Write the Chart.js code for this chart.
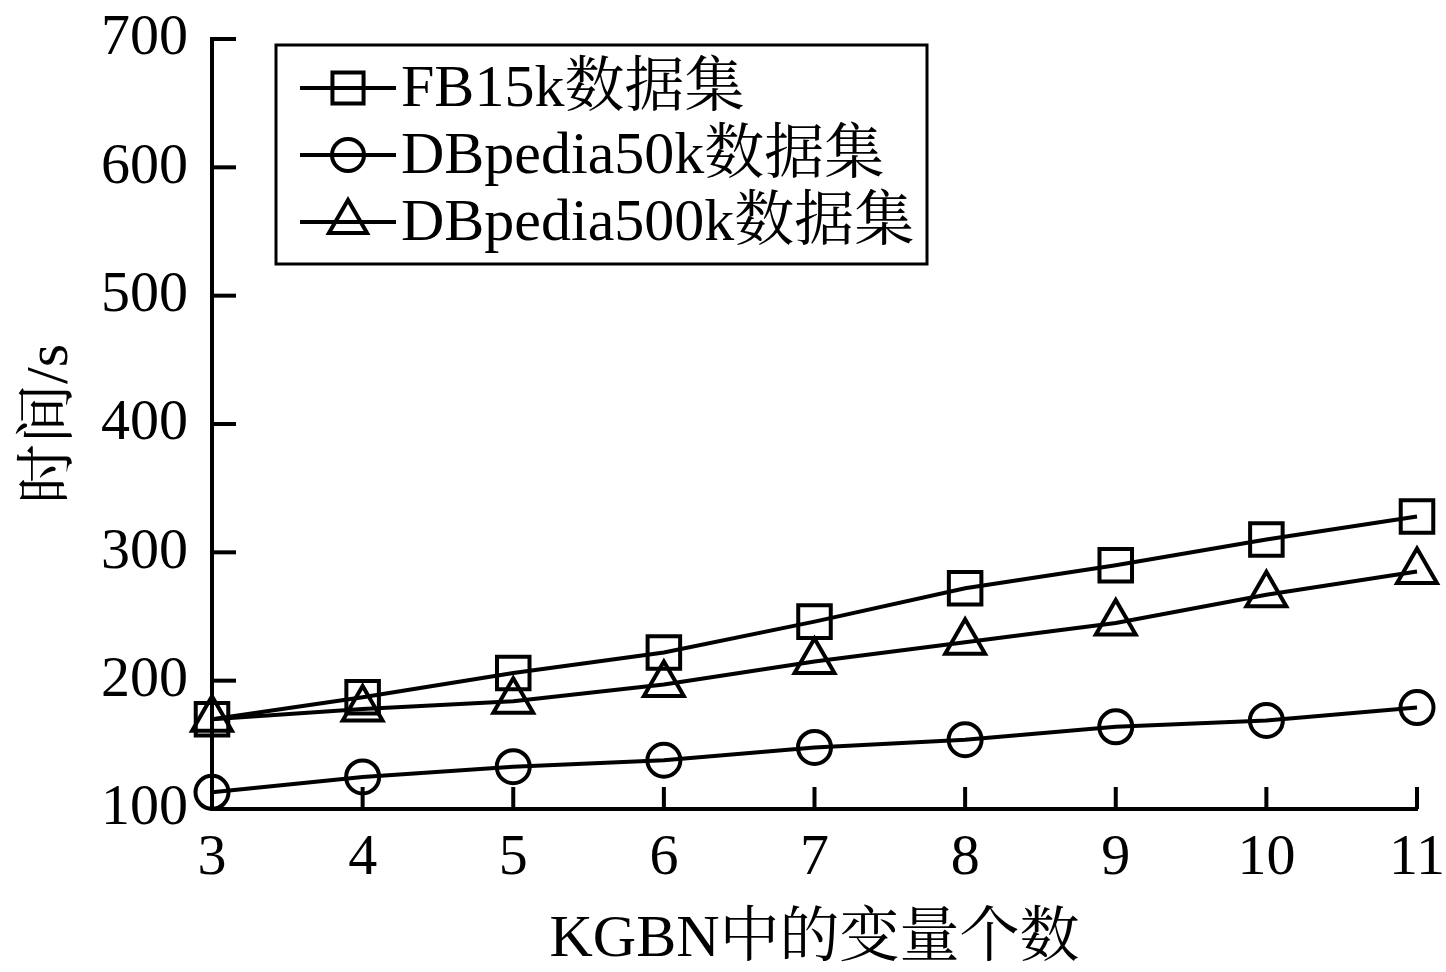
<!DOCTYPE html>
<html>
<head>
<meta charset="utf-8">
<script src="https://cdn.jsdelivr.net/npm/chart.js@4.4.1/dist/chart.umd.min.js"></script>
<style>
  html, body { margin: 0; padding: 0; background: #fff; }
  #wrap { width: 1446px; height: 972px; }
</style>
</head>
<body>
<div id="wrap"><canvas id="c" width="1446" height="972"></canvas></div>
<script>
const categories = [3, 4, 5, 6, 7, 8, 9, 10, 11];
const fb15k = [170, 187, 206, 222, 246, 272, 290, 310, 328];
const dbpedia50k = [113, 125, 133, 138, 148, 154, 164, 169, 179];
const dbpedia500k = [170, 178, 184, 197, 215, 230, 245, 267, 285];
const yTickValues = [100, 200, 300, 400, 500, 600, 700];
const seriesLabels = ['FB15k数据集', 'DBpedia50k数据集', 'DBpedia500k数据集'];
const xTitle = 'KGBN中的变量个数';
const yTitle = '时间/s';

const FONT = "'Liberation Serif', 'Times New Roman', 'Noto Serif CJK SC', 'Noto Sans CJK SC', serif";

function pts(arr) { return categories.map((x, i) => ({ x: x, y: arr[i] })); }

function makeDs(label, data, style, radius) {
  return {
    label: label,
    data: pts(data),
    borderColor: '#000',
    borderWidth: 4,
    pointStyle: style,
    pointRadius: radius,
    pointHoverRadius: radius,
    pointBorderWidth: 4,
    pointBorderColor: '#000',
    pointBackgroundColor: 'rgba(0,0,0,0)',
    fill: false,
    tension: 0,
    clip: false
  };
}

function drawMarker(ctx, style, x, y, r) {
  ctx.beginPath();
  if (style === 'rect') {
    const s = Math.SQRT1_2 * r;
    ctx.rect(x - s, y - s, 2 * s, 2 * s);
  } else if (style === 'circle') {
    ctx.arc(x, y, r, 0, Math.PI * 2);
  } else if (style === 'triangle') {
    let a = 0;
    ctx.moveTo(x + Math.sin(a) * r, y - Math.cos(a) * r);
    a += 2 * Math.PI / 3;
    ctx.lineTo(x + Math.sin(a) * r, y - Math.cos(a) * r);
    a += 2 * Math.PI / 3;
    ctx.lineTo(x + Math.sin(a) * r, y - Math.cos(a) * r);
    ctx.closePath();
  }
  ctx.stroke();
}

const tickPlugin = {
  id: 'innerTicks',
  afterDraw(chart) {
    const ctx = chart.ctx;
    const xs = chart.scales.x, ys = chart.scales.y;
    ctx.save();
    ctx.strokeStyle = '#000';
    ctx.lineWidth = 4;
    ctx.lineCap = 'butt';
    const left = chart.chartArea.left, bottom = chart.chartArea.bottom;
    yTickValues.forEach(v => {
      const py = ys.getPixelForValue(v);
      ctx.beginPath();
      ctx.moveTo(left, py);
      ctx.lineTo(left + 24, py);
      ctx.stroke();
    });
    categories.forEach(v => {
      const px = xs.getPixelForValue(v);
      ctx.beginPath();
      ctx.moveTo(px, bottom);
      ctx.lineTo(px, bottom - 22);
      ctx.stroke();
    });
    ctx.restore();
  }
};

const legendPlugin = {
  id: 'boxLegend',
  afterDraw(chart) {
    const ctx = chart.ctx;
    ctx.save();
    ctx.strokeStyle = '#000';
    ctx.lineWidth = 3;
    ctx.fillStyle = '#fff';
    ctx.fillRect(276, 45, 651, 219);
    ctx.strokeRect(276, 45, 651, 219);
    const rows = [88, 155, 222];
    chart.data.datasets.forEach((ds, i) => {
      const y = rows[i];
      ctx.lineWidth = 4;
      ctx.beginPath();
      ctx.moveTo(300, y);
      ctx.lineTo(396, y);
      ctx.stroke();
      drawMarker(ctx, ds.pointStyle, 348, y, ds.pointStyle === 'circle' ? 16 : 22);
      ctx.fillStyle = '#000';
      ctx.font = '60px ' + FONT;
      ctx.textAlign = 'left';
      ctx.textBaseline = 'middle';
      ctx.fillText(ds.label, 401, y + 2);
    });
    ctx.restore();
  }
};

new Chart(document.getElementById('c'), {
  type: 'line',
  data: {
    datasets: [
      makeDs(seriesLabels[0], fb15k, 'rect', 23),
      makeDs(seriesLabels[1], dbpedia50k, 'circle', 16.5),
      makeDs(seriesLabels[2], dbpedia500k, 'triangle', 23)
    ]
  },
  options: {
    responsive: false,
    animation: false,
    layout: { padding: { left: 0, top: 39, right: 29, bottom: 0 } },
    plugins: { legend: { display: false }, tooltip: { enabled: false } },
    scales: {
      x: {
        type: 'linear',
        min: 3, max: 11,
        afterFit(s) { s.height = 163; s.paddingLeft = 0; s.paddingRight = 0; },
        afterBuildTicks(s) { s.ticks = categories.map(v => ({ value: v })); },
        grid: { display: false },
        border: { display: true, color: '#000', width: 4 },
        ticks: { color: '#000', font: { family: FONT, size: 58 }, padding: 7, maxRotation: 0, autoSkip: false },
        title: { display: true, text: xTitle, color: '#000', font: { family: FONT, size: 60 }, padding: { top: 0, bottom: -4 } }
      },
      y: {
        type: 'linear',
        min: 100, max: 700,
        afterFit(s) { s.width = 212; s.paddingTop = 0; s.paddingBottom = 0; },
        afterBuildTicks(s) { s.ticks = yTickValues.map(v => ({ value: v })); },
        grid: { display: false },
        border: { display: true, color: '#000', width: 4 },
        ticks: { color: '#000', font: { family: FONT, size: 58 }, padding: 16 },
        title: { display: true, text: yTitle, color: '#000', font: { family: FONT, size: 60 }, padding: { top: 15, bottom: 0 } }
      }
    }
  },
  plugins: [tickPlugin, legendPlugin]
});
</script>
</body>
</html>
